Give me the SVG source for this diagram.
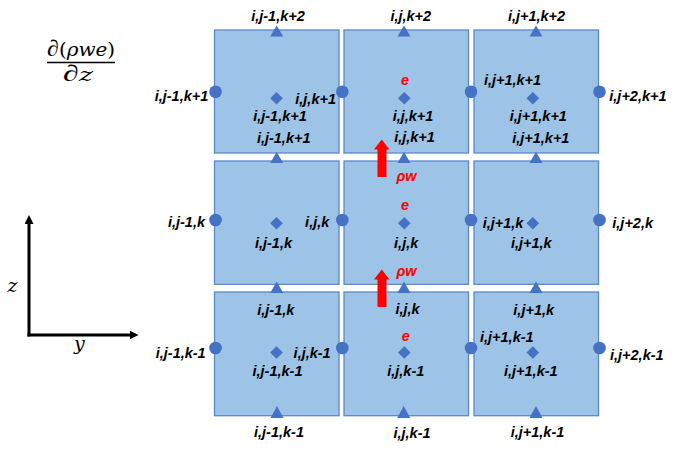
<svg xmlns="http://www.w3.org/2000/svg" width="678" height="451" viewBox="0 0 678 451">
<defs>
<style>
.cell{fill:#9DC3E6;stroke:#5B89C9;stroke-width:1.3}
.pt{fill:#4472C4}
.lb{font-family:"Liberation Sans",Arial,sans-serif;font-style:italic;font-weight:bold;font-size:14.5px;fill:#000}
.m{text-anchor:middle}
.e{text-anchor:end}
.rd{font-family:"Liberation Sans",Arial,sans-serif;font-style:italic;font-weight:bold;font-size:14.5px;fill:#FF0000;text-anchor:middle}
.mth{font-family:"DejaVu Serif","Liberation Serif",serif;font-style:italic;font-size:19px;fill:#000}
.pd{font-family:"Liberation Serif","DejaVu Serif",serif;font-size:23px}
.flux{fill:#FF0000}
.axis{stroke:#000;stroke-width:3;fill:none}
</style>
<marker id="ah" markerWidth="9" markerHeight="9" refX="5" refY="4.5" orient="auto" markerUnits="userSpaceOnUse">
<path d="M0,0 L9,4.5 L0,9 z" fill="#000"/>
</marker>
</defs>
<rect width="678" height="451" fill="#fff"/>

<g id="formula">
<text class="mth" x="47" y="56" textLength="68" lengthAdjust="spacingAndGlyphs"><tspan class="pd">∂</tspan><tspan font-style="normal">(</tspan>ρwe<tspan font-style="normal">)</tspan></text>
<line x1="47" y1="62.5" x2="115" y2="62.5" stroke="#000" stroke-width="1.5"/>
<text class="mth" x="63" y="81" textLength="30" lengthAdjust="spacingAndGlyphs"><tspan class="pd">∂</tspan>z</text>
</g>

<g id="axes">
<path class="axis" d="M29,336.5 V219" marker-end="url(#ah)"/>
<path class="axis" d="M27.5,335 H134.5" marker-end="url(#ah)"/>
<text class="mth" x="7.5" y="292" font-size="17">z</text>
<text class="mth" x="74" y="350" font-size="17">y</text>
</g>

<!-- Row 1 (k+1) -->
<g id="cell-j-1-k1">
<rect class="cell" x="214.5" y="30" width="124.5" height="123"/>
<polygon class="pt" points="276.7,25.5 270.2,36.5 283.2,36.5"/>
<circle class="pt" cx="215.5" cy="91.7" r="6.3"/>
<polygon class="pt" points="276.5,92 282.8,98.3 276.5,104.6 270.2,98.3"/>
<text class="lb m" x="278" y="21">i,j-1,k+2</text>
<text class="lb e" x="208.3" y="101">i,j-1,k+1</text>
<text class="lb m" x="280" y="121">i,j-1,k+1</text>
<text class="lb m" x="283.7" y="142.5">i,j-1,k+1</text>
</g>
<g id="cell-j-k1">
<rect class="cell" x="344" y="30" width="124.5" height="123"/>
<polygon class="pt" points="404,25.5 397.5,36.5 410.5,36.5"/>
<circle class="pt" cx="342.3" cy="91.7" r="6.3"/>
<polygon class="pt" points="404.3,92 410.6,98.3 404.3,104.6 398,98.3"/>
<text class="lb m" x="410.8" y="21">i,j,k+2</text>
<text class="lb e" x="336" y="103.5">i,j,k+1</text>
<text class="rd" x="405" y="85">e</text>
<text class="lb m" x="413" y="120.5">i,j,k+1</text>
<text class="lb m" x="414.5" y="142">i,j,k+1</text>
</g>
<g id="cell-j1-k1">
<rect class="cell" x="474" y="30" width="124.5" height="123"/>
<polygon class="pt" points="536,25.5 529.5,36.5 542.5,36.5"/>
<circle class="pt" cx="471" cy="91.7" r="6.3"/>
<circle class="pt" cx="599.5" cy="91.7" r="6.3"/>
<polygon class="pt" points="532.8,92 539.1,98.3 532.8,104.6 526.5,98.3"/>
<text class="lb m" x="536.5" y="21">i,j+1,k+2</text>
<text class="lb m" x="512.5" y="85">i,j+1,k+1</text>
<text class="lb m" x="538.3" y="121">i,j+1,k+1</text>
<text class="lb m" x="540.8" y="142.5">i,j+1,k+1</text>
<text class="lb" x="609.3" y="100.5">i,j+2,k+1</text>
</g>

<!-- Row 2 (k) -->
<g id="cell-j-1-k">
<rect class="cell" x="214.5" y="161" width="124.5" height="123.3"/>
<polygon class="pt" points="276.7,152 270.2,163 283.2,163"/>
<circle class="pt" cx="215.5" cy="220" r="6.3"/>
<polygon class="pt" points="276.5,217 282.8,223.3 276.5,229.6 270.2,223.3"/>
<text class="lb e" x="205" y="227">i,j-1,k</text>
<text class="lb m" x="273.5" y="248">i,j-1,k</text>
</g>
<g id="cell-j-k">
<rect class="cell" x="344" y="161" width="124.5" height="123.3"/>
<polygon class="pt" points="404,152 397.5,163 410.5,163"/>
<circle class="pt" cx="342.3" cy="220" r="6.3"/>
<polygon class="pt" points="404.3,217 410.6,223.3 404.3,229.6 398,223.3"/>
<text class="lb e" x="329.3" y="227">i,j,k</text>
<text class="rd" x="406.5" y="180.5">ρw</text>
<text class="rd" x="405" y="210">e</text>
<text class="lb m" x="406.2" y="248">i,j,k</text>
<text class="rd" x="406.5" y="276">ρw</text>
</g>
<g id="cell-j1-k">
<rect class="cell" x="474" y="161" width="124.5" height="123.3"/>
<polygon class="pt" points="536,152 529.5,163 542.5,163"/>
<circle class="pt" cx="471" cy="220" r="6.3"/>
<circle class="pt" cx="599.5" cy="220" r="6.3"/>
<polygon class="pt" points="532.8,217 539.1,223.3 532.8,229.6 526.5,223.3"/>
<text class="lb" x="482.7" y="228">i,j+1,k</text>
<text class="lb m" x="531.3" y="248">i,j+1,k</text>
<text class="lb" x="612.3" y="228">i,j+2,k</text>
</g>

<!-- Row 3 (k-1) -->
<g id="cell-j-1-km1">
<rect class="cell" x="214.5" y="292" width="124.5" height="123.7"/>
<polygon class="pt" points="276.7,281.5 270.2,293 283.2,293"/>
<circle class="pt" cx="215.5" cy="348" r="6.3"/>
<polygon class="pt" points="276.5,346.2 282.8,352.5 276.5,358.8 270.2,352.5"/>
<polygon class="pt" points="277,406 270.5,418 283.5,418"/>
<text class="lb m" x="275.8" y="315">i,j-1,k</text>
<text class="lb e" x="205.7" y="358">i,j-1,k-1</text>
<text class="lb m" x="277.5" y="375.5">i,j-1,k-1</text>
<text class="lb m" x="279" y="437">i,j-1,k-1</text>
</g>
<g id="cell-j-km1">
<rect class="cell" x="344" y="292" width="124.5" height="123.7"/>
<polygon class="pt" points="404,281.5 397.5,293 410.5,293"/>
<circle class="pt" cx="342.3" cy="348" r="6.3"/>
<polygon class="pt" points="404.3,346.2 410.6,352.5 404.3,358.8 398,352.5"/>
<polygon class="pt" points="403.7,406 397.2,418 410.2,418"/>
<text class="lb m" x="407.5" y="314">i,j,k</text>
<text class="lb e" x="330.7" y="358">i,j,k-1</text>
<text class="rd" x="405.7" y="341">e</text>
<text class="lb m" x="405.8" y="375.5">i,j,k-1</text>
<text class="lb m" x="412" y="437.5">i,j,k-1</text>
</g>
<g id="cell-j1-km1">
<rect class="cell" x="474" y="292" width="124.5" height="123.7"/>
<polygon class="pt" points="536,281.5 529.5,293 542.5,293"/>
<circle class="pt" cx="471" cy="348" r="6.3"/>
<circle class="pt" cx="599.5" cy="348" r="6.3"/>
<polygon class="pt" points="532.8,346.2 539.1,352.5 532.8,358.8 526.5,352.5"/>
<polygon class="pt" points="536,406 529.5,418 542.5,418"/>
<text class="lb m" x="533.7" y="315">i,j+1,k</text>
<text class="lb" x="480" y="341.5">i,j+1,k-1</text>
<text class="lb m" x="530.8" y="375.5">i,j+1,k-1</text>
<text class="lb" x="610" y="359.5">i,j+2,k-1</text>
<text class="lb m" x="537.5" y="437">i,j+1,k-1</text>
</g>

<g id="connectors">
<polygon class="flux" points="381.75,139.5 389.5,149.5 386.5,149.5 386.5,177 377.5,177 377.5,149.5 374,149.5"/>
<polygon class="flux" points="381.75,269.5 389.5,279.5 386.5,279.5 386.5,307 377.5,307 377.5,279.5 374,279.5"/>
</g>
</svg>
